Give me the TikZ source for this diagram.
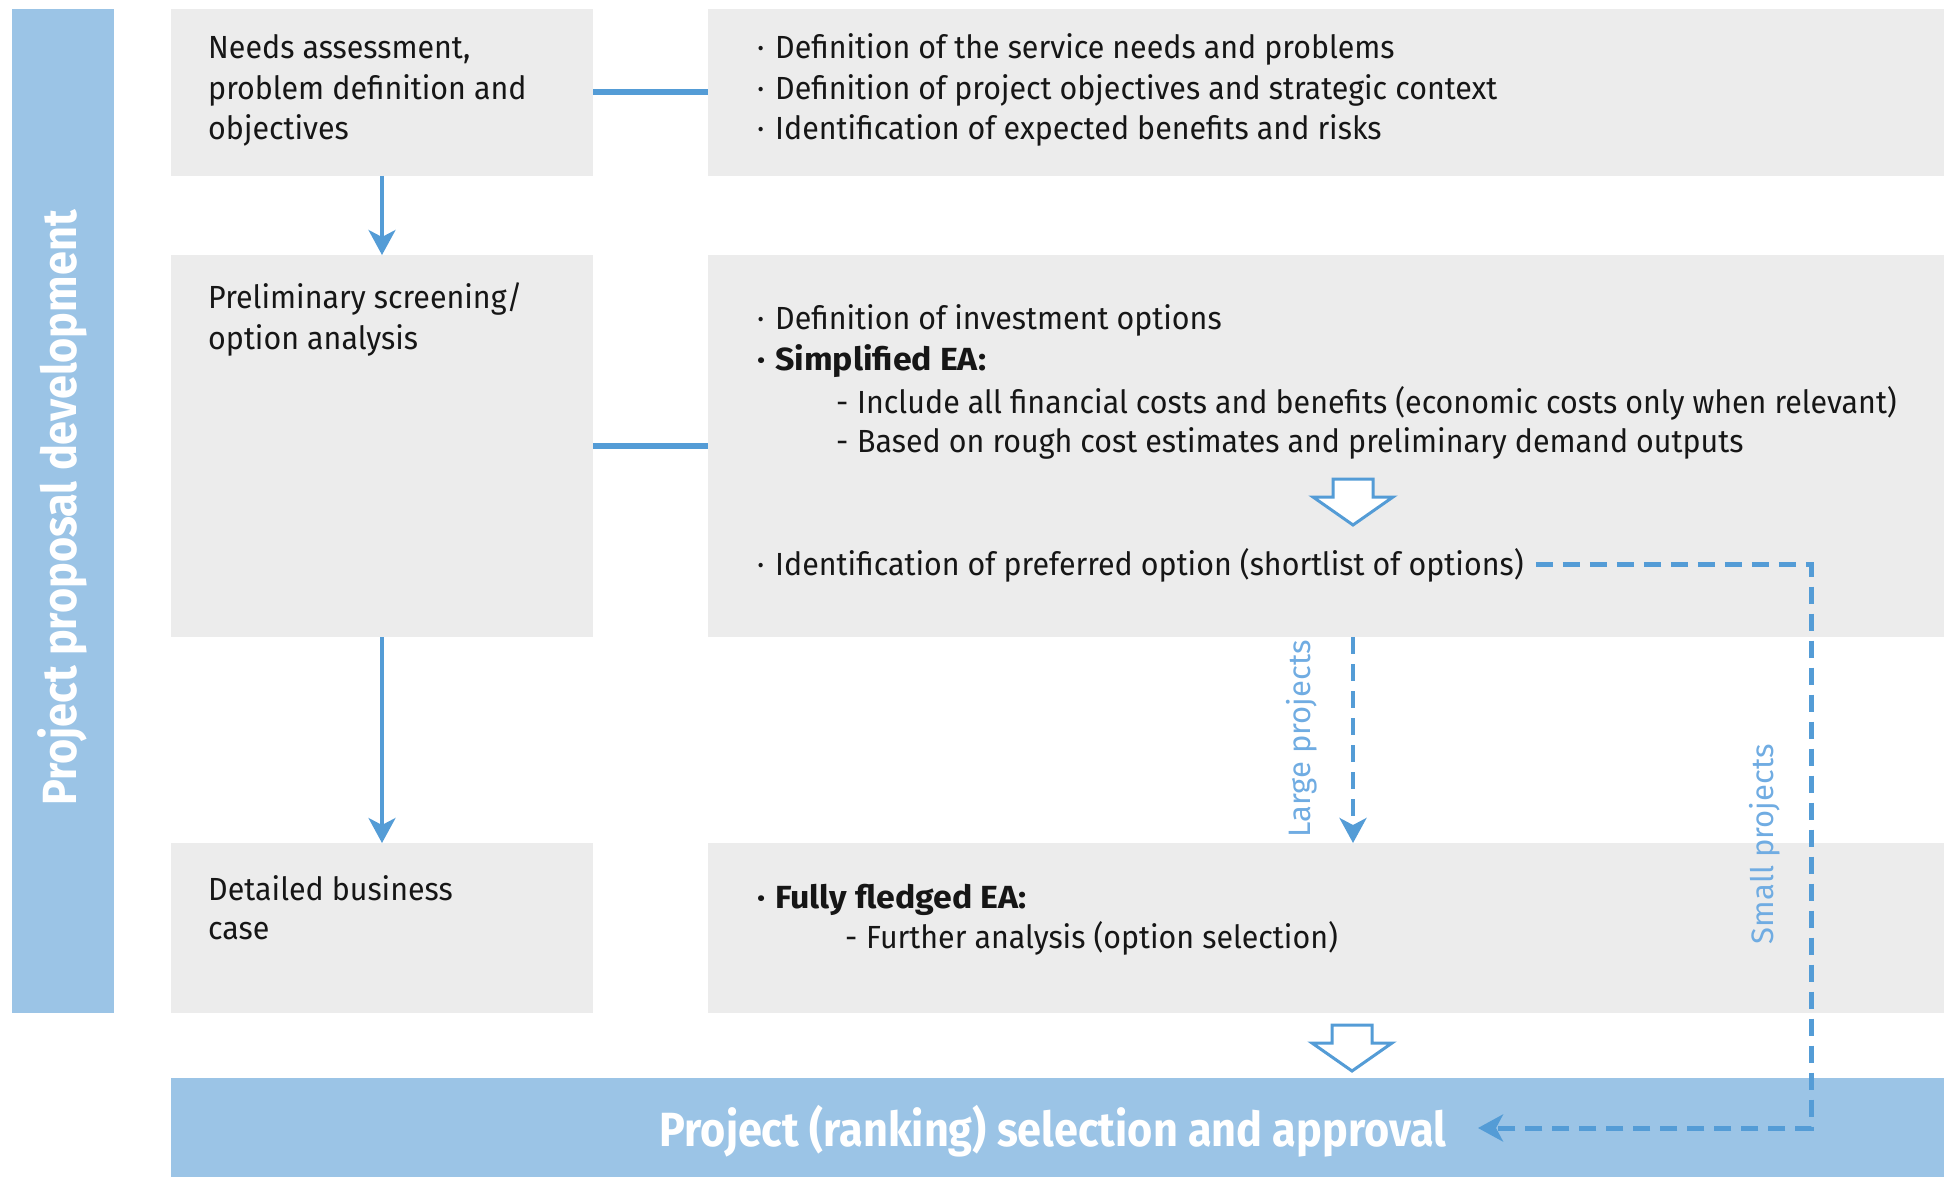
\documentclass[tikz,border=0pt]{standalone}
\usepackage{fontspec}
\setmainfont{Fira Sans}[FakeStretch=0.95, BoldFeatures={FakeStretch=1.06}]
\newfontfamily\headfont{Fira Sans}[FakeStretch=0.9, BoldFeatures={FakeStretch=0.9}]
\newfontfamily\labelfont{Fira Sans}
\usetikzlibrary{arrows.meta}

\definecolor{panelgray}{RGB}{236,236,236}
\definecolor{sideblue}{RGB}{155,196,230}
\definecolor{lineblue}{RGB}{84,156,214}
\definecolor{labelblue}{RGB}{112,172,226}
\definecolor{ink}{RGB}{22,22,22}

\newcommand\bul{\makebox[19pt][l]{\kern1pt\textperiodcentered}}
\newcommand\dsh{\makebox[21pt][l]{-}}

\begin{document}
\begin{tikzpicture}[x=1pt,y=-1pt,
  panel/.style={fill=panelgray, draw=none, anchor=north west, inner sep=0pt, outer sep=0pt},
  band/.style={fill=sideblue, draw=none, anchor=north west, inner sep=0pt, outer sep=0pt},
  txt/.style={anchor=base west, inner sep=0pt, text=ink, font=\fontsize{32}{40}\selectfont},
  lbl/.style={inner sep=0pt, text=labelblue, rotate=90, font=\labelfont\fontsize{31}{34}\selectfont},
  link/.style={draw=lineblue, line width=6pt},
  tip/.style={-{Stealth[length=25pt,width=27pt,inset=7pt]}},
  flow/.style={draw=lineblue, line width=3.5pt, tip},
  branch/.style={draw=lineblue, line width=5pt, dash pattern=on 17pt off 10pt, tip},
  hollow/.pic={\draw[fill=white, draw=lineblue, line width=3pt, line join=miter]
      (-20,0) -- (20,0) -- (20,18) -- (40,18) -- (0,46) -- (-40,18) -- (-20,18) -- cycle;}
]
\useasboundingbox (0,0) rectangle (1944,1177);

% side band and panels
\node[band, minimum width=102pt, minimum height=1004pt] (side) at (12,9) {};
\node[panel, minimum width=422pt, minimum height=167pt] (b1l) at (171,9) {};
\node[panel, minimum width=1236pt, minimum height=167pt] (b1r) at (708,9) {};
\node[panel, minimum width=422pt, minimum height=382pt] (b2l) at (171,255) {};
\node[panel, minimum width=1236pt, minimum height=382pt] (b2r) at (708,255) {};
\node[panel, minimum width=422pt, minimum height=170pt] (b3l) at (171,843) {};
\node[panel, minimum width=1236pt, minimum height=170pt] (b3r) at (708,843) {};
\node[band, minimum width=1773pt, minimum height=99pt] (bar) at (171,1078) {};

% band titles
\node[rotate=90, inner sep=0pt, text=white, font=\headfont\bfseries\fontsize{48}{52}\selectfont]
  (sidetitle) at (62,508) {Project proposal development};
\node[inner sep=0pt, text=white, font=\headfont\bfseries\fontsize{48}{52}\selectfont]
  (bartitle) at (1053,1131) {Project (ranking) selection and approval};

% stage names
\node[txt] (s1a) at (208,59) {Needs assessment,};
\node[txt] (s1b) at (208,100) {problem definition and};
\node[txt] (s1c) at (208,140) {objectives};
\node[txt] (s2a) at (208,308) {Preliminary screening/};
\node[txt] (s2b) at (208,349) {option analysis};
\node[txt] (s3a) at (208,900) {Detailed business};
\node[txt] (s3b) at (208,939) {case};

% stage contents
\node[txt] (a1) at (756,59) {\bul Definition of the service needs and problems};
\node[txt] (a2) at (756,100) {\bul Definition of project objectives and strategic context};
\node[txt] (a3) at (756,140) {\bul Identification of expected benefits and risks};

\node[txt] (c1) at (756,329) {\bul Definition of investment options};
\node[txt] (c2) at (756,370) {\bfseries\bul Simplified EA:};
\node[txt] (c3) at (836,413) {\dsh Include all financial costs and benefits (economic costs only when relevant)};
\node[txt] (c4) at (836,452) {\dsh Based on rough cost estimates and preliminary demand outputs};
\node[txt] (c5) at (756,575) {\bul Identification of preferred option (shortlist of options)};

\node[txt] (d1) at (756,908) {\bfseries\bul Fully fledged EA:};
\node[txt] (d2) at (845,948) {\dsh Further analysis (option selection)};

% links between stage names and contents
\draw[link] (b1l.east) -- (b1r.west);
\draw[link] (b2l.east) -- (b2r.west);

% main flow
\draw[flow] (b1l.south) -- (b2l.north);
\draw[flow] (b2l.south) -- (b3l.north);

% hollow arrows
\pic (h1) at (1353,479) {hollow};
\pic (h2) at (1352,1025) {hollow};

% large projects branch
\coordinate (lx) at (1353,0);
\draw[branch, line width=4pt] (b2r.south -| lx) -- (b3r.north -| lx);
\node[lbl] (large) at (1302,739) {Large projects};

% small projects branch
\coordinate (sA) at (1811,0);
\coordinate (sB) at (1811,1128);
\coordinate (sEnd) at (1478,1128);
\draw[branch] ([xshift=12pt]c5.east) -- (c5.east -| sA) -- (sB) -- (sEnd);
\node[lbl] (small) at (1765,844) {Small projects};
\end{tikzpicture}
\end{document}
